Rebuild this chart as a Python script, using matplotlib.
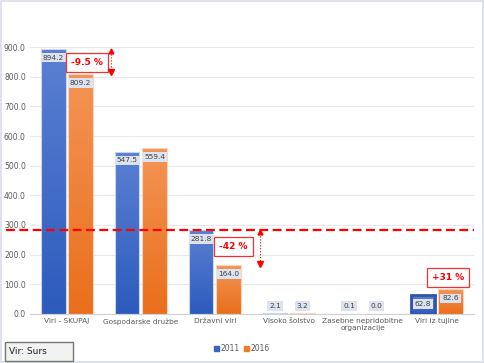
import numpy as np
import matplotlib.pyplot as plt
from matplotlib.patches import Rectangle
from matplotlib.colors import LinearSegmentedColormap

# data
categories = ['Viri - SKUPAJ', 'Gospodarske družbe', 'Državni viri',
              'Visoko šolstvo', 'Zasebne nepridobitne\norganizacije', 'Viri iz tujine']
v2011 = [894.2, 547.5, 281.8, 2.1, 0.1, 62.8]
v2016 = [809.2, 559.4, 164.0, 3.2, 0.0, 82.6]
years = ['2011', '2016']
yticks = [0, 100, 200, 300, 400, 500, 600, 700, 800, 900]

blue_cm = LinearSegmentedColormap.from_list('b', ['#2d5bbd', '#5a80d2'])
orange_cm = LinearSegmentedColormap.from_list('o', ['#e96f1c', '#f49456'])

fig = plt.figure(figsize=(4.84, 3.63), dpi=100)
fig.patches.append(Rectangle((0.002, 0.003), 0.996, 0.994, transform=fig.transFigure,
                             fill=False, edgecolor='#d9dde6', linewidth=1.2))
ax = fig.add_axes([0.062, 0.135, 0.917, 0.7355])

x = np.arange(len(categories))
w = 0.33
grad = np.linspace(0, 1, 100).reshape(-1, 1)

def draw_bars(xs, vals, cm, edge):
    bars = ax.bar(xs, vals, w, color='none', edgecolor=edge, linewidth=0.8, zorder=3)
    for b in bars:
        x0, h = b.get_x(), b.get_height()
        if h <= 0:
            continue
        im = ax.imshow(grad, cmap=cm, aspect='auto', origin='lower',
                       extent=[x0, x0 + b.get_width(), 0, h], zorder=2)
        im.set_clip_path(b)
    return bars

b1 = draw_bars(x - w / 2 - 0.02, v2011, blue_cm, '#c9d5ef')
b2 = draw_bars(x + w / 2 + 0.02, v2016, orange_cm, '#fbd6bd')
# thicker border on the last blue bar
b1[-1].set_edgecolor('#2f55a8')
b1[-1].set_linewidth(2)

ax.set_xlim(-0.5, len(categories) - 0.5)
ax.set_ylim(0, 900)
ax.set_yticks(yticks)
ax.set_yticklabels(['%.1f' % t for t in yticks], fontsize=5.5, color='#595959')
ax.set_xticks(x)
ax.set_xticklabels(categories, fontsize=5.3, color='#595959')
ax.tick_params(length=0, pad=3)
ax.grid(axis='y', color='#e6e8ec', linewidth=0.8, zorder=0)
for s in ['top', 'right', 'left']:
    ax.spines[s].set_visible(False)
ax.spines['bottom'].set_color('#d0d0d0')

# value labels
box = dict(boxstyle='square,pad=0.25', facecolor='#dde3ee', edgecolor='none')
for bars, vals in [(b1, v2011), (b2, v2016)]:
    for b, v in zip(bars, vals):
        cx = b.get_x() + b.get_width() / 2
        y = v - 30 if v > 50 else 28
        ax.text(cx, y, '%.1f' % v, ha='center', va='center', fontsize=5.3,
                color='#404040', bbox=box, zorder=5)

# horizontal reference line
ax.plot([-0.055, 1], [v2011[2], v2011[2]], transform=ax.get_yaxis_transform(),
        color='#ff0000', linestyle=(0, (4, 2)), linewidth=1.6, clip_on=False, zorder=6)

# change annotations
red_box = dict(boxstyle='square,pad=0.55', facecolor='white', edgecolor='#ee3333', linewidth=0.9)
def change_arrow(xpos, top, bottom):
    ax.plot([xpos, xpos], [top - 8, bottom + 8], color='#ff0000', linestyle=':',
            linewidth=0.8, zorder=7)
    ax.plot([xpos], [top - 6], marker='^', color='#ff0000', markersize=3.5, zorder=7)
    ax.plot([xpos], [bottom + 6], marker='v', color='#ff0000', markersize=4, zorder=7)

ax.text(0.27, 849, '-9.5 %', ha='center', va='center', fontsize=6.5, fontweight='bold',
        color='#ff0000', bbox=red_box, zorder=7)
change_arrow(0.6, v2011[0], v2016[0])
ax.text(2.25, 226, '-42 %', ha='center', va='center', fontsize=6.5, fontweight='bold',
        color='#ff0000', bbox=red_box, zorder=7)
change_arrow(2.61, v2011[2], v2016[2])
ax.text(5.15, 123, '+31 %', ha='center', va='center', fontsize=6.5, fontweight='bold',
        color='#ff0000', bbox=red_box, zorder=7)

# legend
handles = [Rectangle((0, 0), 1, 1, color='#3a66c4'), Rectangle((0, 0), 1, 1, color='#ee7a2a')]
fig.legend(handles, years, loc='center', bbox_to_anchor=(0.5, 0.04), ncol=2, frameon=False,
           fontsize=5.5, handlelength=0.6, handleheight=0.6, handletextpad=0.2,
           columnspacing=0.6, labelcolor='#595959')

# source box
fig.patches.append(Rectangle((5 / 484, 2 / 363), 68 / 484, 19 / 363, transform=fig.transFigure,
                             facecolor='#f2f2f2', edgecolor='#6e7a6e', linewidth=1.0))
fig.text(9 / 484, 11.5 / 363, 'Vir: Surs', fontsize=6.5, color='#202020', va='center', ha='left')

fig.savefig('out.png', dpi=100)
